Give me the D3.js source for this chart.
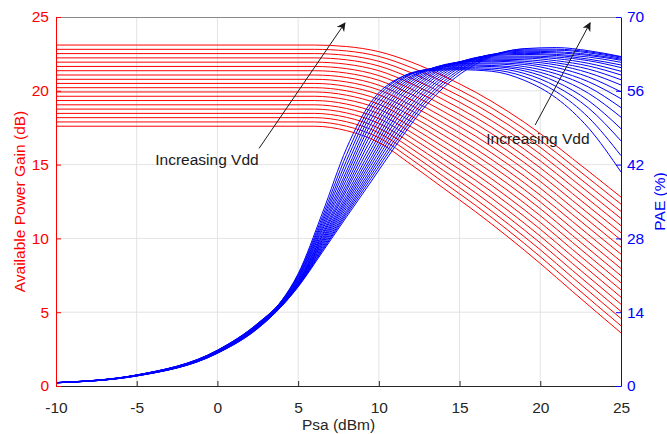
<!DOCTYPE html>
<html lang="en">
<head>
    <meta charset="UTF-8" />
    <title>Gain and PAE vs Psa</title>
    <style>
        body, html {
            margin: 0;
            padding: 0;
            background-color: white;
        }
        svg text {
            font-family: "Liberation Sans", Arial, sans-serif;
        }
    </style>
</head>
<body>
    <svg id="svg" width="667" height="434"></svg>
    <script src="https://cdn.jsdelivr.net/npm/d3@7"></script>
    <script>
        // input power samples for the gain curves (dBm)
        const gainX = [-10, 6, 8, 10, 12, 14, 16, 18, 20, 22, 25];
        // available power gain (dB), one row per Vdd step, lowest Vdd first
        const gainCurves = [
            [17.60, 17.60, 17.3, 16.50, 15.00, 13.4, 11.80, 10.10, 8.30, 6.40, 3.60],
            [17.89, 17.89, 17.6, 16.82, 15.37, 13.8, 12.23, 10.55, 8.76, 6.87, 4.08],
            [18.18, 18.18, 17.9, 17.15, 15.73, 14.2, 12.65, 10.99, 9.23, 7.35, 4.57],
            [18.47, 18.47, 18.2, 17.47, 16.10, 14.6, 13.08, 11.44, 9.69, 7.82, 5.05],
            [18.76, 18.76, 18.5, 17.79, 16.46, 15.0, 13.51, 11.89, 10.15, 8.29, 5.54],
            [19.05, 19.05, 18.8, 18.12, 16.83, 15.4, 13.93, 12.34, 10.62, 8.77, 6.02],
            [19.34, 19.34, 19.1, 18.44, 17.19, 15.8, 14.36, 12.78, 11.08, 9.24, 6.51],
            [19.63, 19.63, 19.4, 18.77, 17.56, 16.2, 14.78, 13.23, 11.54, 9.72, 6.99],
            [19.92, 19.92, 19.7, 19.09, 17.93, 16.6, 15.21, 13.68, 12.01, 10.19, 7.47],
            [20.21, 20.21, 20.0, 19.41, 18.29, 17.0, 15.64, 14.13, 12.47, 10.66, 7.96],
            [20.50, 20.50, 20.3, 19.74, 18.66, 17.4, 16.06, 14.57, 12.93, 11.14, 8.44],
            [20.78, 20.78, 20.6, 20.06, 19.02, 17.8, 16.49, 15.02, 13.40, 11.61, 8.93],
            [21.07, 21.07, 20.9, 20.38, 19.39, 18.2, 16.92, 15.47, 13.86, 12.08, 9.41],
            [21.36, 21.36, 21.2, 20.71, 19.76, 18.6, 17.34, 15.92, 14.32, 12.56, 9.89],
            [21.65, 21.65, 21.5, 21.03, 20.12, 19.0, 17.77, 16.36, 14.78, 13.03, 10.38],
            [21.94, 21.94, 21.8, 21.36, 20.49, 19.4, 18.19, 16.81, 15.25, 13.51, 10.86],
            [22.23, 22.23, 22.1, 21.68, 20.85, 19.8, 18.62, 17.26, 15.71, 13.98, 11.35],
            [22.52, 22.52, 22.4, 22.00, 21.22, 20.2, 19.05, 17.71, 16.17, 14.45, 11.83],
            [22.81, 22.81, 22.7, 22.33, 21.58, 20.6, 19.47, 18.15, 16.64, 14.93, 12.32],
            [23.10, 23.10, 23.0, 22.65, 21.95, 21.0, 19.90, 18.60, 17.10, 15.40, 12.80]
        ];

        // input power samples for the PAE curves (dBm)
        const paeX = [-10, -5, 0, 2.5, 4, 5, 6.5, 8, 9.5, 11, 13, 15, 17, 19, 21, 23, 25];
        // PAE (%), one row per Vdd step, lowest Vdd first
        const paeCurves = [
            [0.65, 2.10, 6.80, 11.90, 16.3, 21.30, 32.8, 45.1, 53.8, 58.0, 59.8, 60.0, 59.7, 58.0, 54.6, 48.9, 40.6],
            [0.65, 2.09, 6.77, 11.85, 16.25, 21.10, 32.1, 43.9, 53.1, 57.8, 60.0, 60.2, 60.0, 58.7, 55.8, 50.9, 43.7],
            [0.64, 2.08, 6.74, 11.79, 16.2, 20.90, 31.5, 42.8, 52.3, 57.4, 60.0, 60.4, 60.3, 59.3, 56.8, 52.7, 46.5],
            [0.64, 2.07, 6.71, 11.74, 16.1, 20.70, 31.0, 41.8, 51.4, 57.0, 60.1, 60.7, 60.6, 59.8, 57.7, 54.1, 48.8],
            [0.64, 2.06, 6.67, 11.69, 16.0, 20.50, 30.5, 40.8, 50.5, 56.5, 60.0, 60.9, 60.8, 60.2, 58.5, 55.5, 51.0],
            [0.64, 2.05, 6.64, 11.64, 15.9, 20.30, 30.0, 40.0, 49.6, 55.9, 60.0, 61.1, 61.1, 60.6, 59.2, 56.7, 52.8],
            [0.63, 2.04, 6.61, 11.58, 15.8, 20.15, 29.6, 39.2, 48.6, 55.3, 59.9, 61.2, 61.3, 61.0, 59.8, 57.7, 54.5],
            [0.63, 2.03, 6.58, 11.53, 15.7, 20.00, 29.1, 38.4, 47.7, 54.7, 59.7, 61.4, 61.6, 61.3, 60.4, 58.6, 55.8],
            [0.63, 2.02, 6.55, 11.48, 15.7, 19.78, 28.7, 37.7, 46.7, 54.0, 59.4, 61.4, 61.8, 61.6, 60.9, 59.4, 57.1],
            [0.63, 2.01, 6.52, 11.43, 15.6, 19.69, 28.4, 37.1, 45.7, 53.3, 59.1, 61.5, 62.0, 61.9, 61.3, 60.1, 58.1],
            [0.62, 2.00, 6.48, 11.37, 15.6, 19.61, 28.0, 36.4, 44.8, 52.5, 58.7, 61.5, 62.2, 62.2, 61.7, 60.7, 59.0],
            [0.62, 1.98, 6.45, 11.32, 15.5, 19.52, 27.7, 35.8, 44.0, 51.7, 58.3, 61.5, 62.4, 62.4, 62.1, 61.2, 59.7],
            [0.62, 1.97, 6.42, 11.27, 15.5, 19.43, 27.4, 35.3, 43.2, 50.9, 57.8, 61.4, 62.6, 62.6, 62.4, 61.7, 60.4],
            [0.62, 1.96, 6.39, 11.22, 15.5, 19.34, 27.1, 34.8, 42.5, 50.1, 57.3, 61.2, 62.7, 62.9, 62.7, 62.0, 60.9],
            [0.61, 1.95, 6.36, 11.16, 15.4, 19.25, 26.8, 34.3, 41.8, 49.2, 56.7, 61.0, 62.8, 63.1, 62.9, 62.4, 61.4],
            [0.61, 1.94, 6.33, 11.11, 15.4, 19.16, 26.5, 33.8, 41.1, 48.4, 56.1, 60.7, 62.9, 63.3, 63.2, 62.7, 61.8],
            [0.61, 1.93, 6.29, 11.06, 15.3, 19.07, 26.2, 33.3, 40.5, 47.6, 55.5, 60.4, 62.9, 63.5, 63.4, 62.9, 62.0],
            [0.61, 1.92, 6.26, 11.01, 15.3, 18.98, 25.9, 32.9, 39.9, 46.8, 54.8, 60.0, 62.8, 63.7, 63.7, 63.2, 62.2],
            [0.60, 1.91, 6.23, 10.95, 15.2, 18.89, 25.7, 32.5, 39.3, 46.1, 54.2, 59.6, 62.7, 63.9, 63.9, 63.4, 62.4],
            [0.60, 1.90, 6.20, 10.90, 15.2, 18.80, 25.4, 32.1, 38.7, 45.4, 53.5, 59.1, 62.5, 64.0, 64.2, 63.6, 62.5]
        ];

        // tick labels
        const xTicks = [-10, -5, 0, 5, 10, 15, 20, 25];
        const gainTicks = [0, 5, 10, 15, 20, 25];
        const paeTicks = [0, 14, 28, 42, 56, 70];

        // annotations: arrow [x0, gain0, x1, gain1], note [x, gain, text] in data units
        const arrows = [[2.58, 16.1, 7.9, 24.6], [19.68, 17.68, 23.09, 24.6]];
        const notes = [[-3.85, 15.0, "Increasing Vdd"], [16.65, 16.4, "Increasing Vdd"]];

        const margin = { top: 17, right: 46, bottom: 48, left: 56 };
        const width = 667 - margin.left - margin.right;
        const height = 434 - margin.top - margin.bottom;

        const svg = d3.select("#svg")
            .append("g")
            .attr("transform", `translate(${margin.left},${margin.top})`);

        const xScale = d3.scaleLinear().domain([-10, 25]).range([0, width]);
        const yGain = d3.scaleLinear().domain([0, 25]).range([height, 0]);
        const yPae = d3.scaleLinear().domain([0, 70]).range([height, 0]);

        const fontSize = "15.5px";
        const plain = (d) => String(d);

        // grid
        svg.append("g")
            .selectAll("line")
            .data(xTicks.slice(1, -1))
            .enter()
            .append("line")
            .attr("x1", (d) => xScale(d))
            .attr("x2", (d) => xScale(d))
            .attr("y1", 0)
            .attr("y2", height)
            .attr("stroke", "#e3e3e3");

        svg.append("g")
            .selectAll("line")
            .data(gainTicks.slice(1, -1))
            .enter()
            .append("line")
            .attr("x1", 0)
            .attr("x2", width)
            .attr("y1", (d) => yGain(d))
            .attr("y2", (d) => yGain(d))
            .attr("stroke", "#e3e3e3");

        // top border
        svg.append("line")
            .attr("x1", 0).attr("x2", width)
            .attr("y1", 0.5).attr("y2", 0.5)
            .attr("stroke", "#8a8a8a");

        // curves
        const gainLine = d3.line()
            .x((d) => xScale(d[0]))
            .y((d) => yGain(d[1]))
            .curve(d3.curveMonotoneX);

        const paeLine = d3.line()
            .x((d) => xScale(d[0]))
            .y((d) => yPae(d[1]))
            .curve(d3.curveMonotoneX);

        svg.append("g")
            .selectAll("path")
            .data(gainCurves)
            .enter()
            .append("path")
            .attr("d", (row) => gainLine(row.map((v, i) => [gainX[i], v])))
            .attr("fill", "none")
            .attr("stroke", "#ff0000")
            .attr("stroke-width", 1);

        svg.append("g")
            .selectAll("path")
            .data(paeCurves)
            .enter()
            .append("path")
            .attr("d", (row) => paeLine(row.map((v, i) => [paeX[i], v])))
            .attr("fill", "none")
            .attr("stroke", "#0000ff")
            .attr("stroke-width", 1);

        // x-axis
        const xAxis = svg.append("g")
            .attr("transform", `translate(0, ${height})`)
            .call(d3.axisBottom(xScale).tickValues(xTicks).tickFormat(plain)
                .tickSizeInner(-5).tickSizeOuter(0).tickPadding(16));
        xAxis.select(".domain").attr("stroke", "#262626");
        xAxis.selectAll(".tick line").attr("stroke", "#262626");
        xAxis.selectAll(".tick text").attr("fill", "#262626").style("font-size", fontSize);
        xAxis.select(".tick:first-of-type line").remove();
        xAxis.select(".tick:last-of-type line").remove();

        xAxis.append("text")
            .attr("x", width / 2)
            .attr("y", 44)
            .attr("fill", "#262626")
            .style("text-anchor", "middle")
            .style("font-size", fontSize)
            .text("Psa (dBm)");

        // left y-axis
        const yAxisL = svg.append("g")
            .call(d3.axisLeft(yGain).tickValues(gainTicks).tickFormat(plain)
                .tickSizeInner(-5).tickSizeOuter(0).tickPadding(7));
        yAxisL.selectAll(".domain, .tick line").attr("stroke", "#ff0000");
        yAxisL.selectAll(".tick text").attr("fill", "#ff0000").style("font-size", fontSize);

        yAxisL.append("text")
            .attr("transform", "rotate(-90)")
            .attr("x", -height / 2)
            .attr("y", -31)
            .attr("fill", "#ff0000")
            .style("text-anchor", "middle")
            .style("font-size", fontSize)
            .text("Available Power Gain (dB)");

        // right y-axis
        const yAxisR = svg.append("g")
            .attr("transform", `translate(${width}, 0)`)
            .call(d3.axisRight(yPae).tickValues(paeTicks).tickFormat(plain)
                .tickSizeInner(-5).tickSizeOuter(0).tickPadding(6));
        yAxisR.selectAll(".domain, .tick line").attr("stroke", "#0000ff");
        yAxisR.selectAll(".tick text").attr("fill", "#0000ff").style("font-size", fontSize);

        yAxisR.append("text")
            .attr("transform", "rotate(-90)")
            .attr("x", -height / 2)
            .attr("y", 44)
            .attr("fill", "#0000ff")
            .style("text-anchor", "middle")
            .style("font-size", fontSize)
            .text("PAE (%)");

        // annotations
        svg.append("defs").append("marker")
            .attr("id", "head")
            .attr("viewBox", "0 0 10 10")
            .attr("refX", 9)
            .attr("refY", 5)
            .attr("markerWidth", 9)
            .attr("markerHeight", 9)
            .attr("markerUnits", "userSpaceOnUse")
            .attr("orient", "auto")
            .append("path")
            .attr("d", "M0,0 L10,5 L0,10 L3,5 Z")
            .attr("fill", "#1a1a1a");

        svg.append("g")
            .selectAll("line")
            .data(arrows)
            .enter()
            .append("line")
            .attr("x1", (d) => xScale(d[0]))
            .attr("y1", (d) => yGain(d[1]))
            .attr("x2", (d) => xScale(d[2]))
            .attr("y2", (d) => yGain(d[3]))
            .attr("stroke", "#1a1a1a")
            .attr("stroke-width", 1)
            .attr("marker-end", "url(#head)");

        svg.append("g")
            .selectAll("text")
            .data(notes)
            .enter()
            .append("text")
            .attr("x", (d) => xScale(d[0]))
            .attr("y", (d) => yGain(d[1]))
            .attr("fill", "#1a1a1a")
            .style("font-size", fontSize)
            .text((d) => d[2]);
    </script>
</body>
</html>
